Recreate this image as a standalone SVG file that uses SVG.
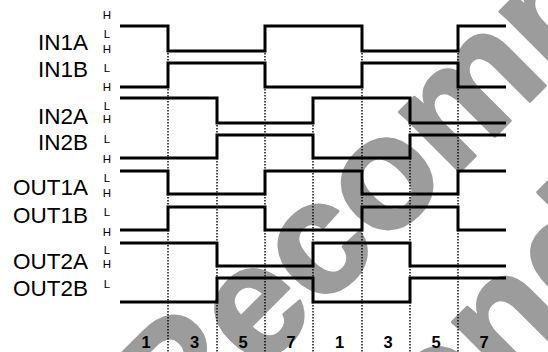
<svg xmlns="http://www.w3.org/2000/svg" width="548" height="352" viewBox="0 0 548 352">
<style>
.wm{font-family:"Liberation Sans",Arial,sans-serif;font-weight:bold;font-size:160px;fill:#9c9c9c;stroke:#9c9c9c;stroke-width:3;stroke-linejoin:round}
.sig{fill:none;stroke:#000;stroke-width:3;stroke-linejoin:miter;stroke-linecap:butt}
.dot{fill:none;stroke:#000;stroke-width:1.4;stroke-dasharray:1.4 1.6}
.name{font-family:"Liberation Sans",Arial,sans-serif;font-size:22.5px;fill:#000;text-anchor:end}
.hl{font-family:"Liberation Sans",Arial,sans-serif;font-size:11.5px;fill:#000;text-anchor:middle}
.num{font-family:"Liberation Sans",Arial,sans-serif;font-size:16.5px;font-weight:bold;fill:#000;text-anchor:middle}
</style>
<rect width="548" height="352" fill="#fff"/>
<g id="watermark">
<text class="wm" transform="translate(175,456) rotate(-45)">Recommended</text>
<text class="wm" transform="translate(-36,930) rotate(-45)">Recommended</text>
</g>
<g id="connectors">
<path class="dot" d="M168,26V352M265,26V352M362,26V352M458,26V352M217,98V352M313,98V352M410,98V352"/>
</g>
<g id="IN1A"><path class="sig" d="M120,26H168V51H265V26H362V51H458V26H506"/><text class="name" x="88" y="50">IN1A</text></g>
<g id="IN1B"><path class="sig" d="M120,87H168V63H265V87H362V63H458V87H506"/><text class="name" x="88" y="76.5">IN1B</text></g>
<g id="IN2A"><path class="sig" d="M120,98H217V123H313V98H410V123H506"/><text class="name" x="88" y="123.5">IN2A</text></g>
<g id="IN2B"><path class="sig" d="M120,158H217V135H313V158H410V135H506"/><text class="name" x="88" y="150">IN2B</text></g>
<g id="OUT1A"><path class="sig" d="M120,171H168V194H265V171H362V194H458V171H506"/><text class="name" x="88" y="195">OUT1A</text></g>
<g id="OUT1B"><path class="sig" d="M120,230H168V207H265V230H362V207H458V230H506"/><text class="name" x="88" y="222.5">OUT1B</text></g>
<g id="OUT2A"><path class="sig" d="M120,243H217V266H313V243H410V266H506"/><text class="name" x="88" y="269">OUT2A</text></g>
<g id="OUT2B"><path class="sig" d="M120,302H217V278H313V302H410V278H506"/><text class="name" x="88" y="296">OUT2B</text></g>
<g id="levels">
<text class="hl" x="107" y="19">H</text>
<text class="hl" x="107" y="38.3">L</text>
<text class="hl" x="107" y="53.3">H</text>
<text class="hl" x="107" y="71.7">L</text>
<text class="hl" x="107" y="90.7">H</text>
<text class="hl" x="107" y="110">L</text>
<text class="hl" x="107" y="123.3">H</text>
<text class="hl" x="107" y="143.3">L</text>
<text class="hl" x="107" y="163.3">H</text>
<text class="hl" x="107" y="181.7">L</text>
<text class="hl" x="107" y="196.7">H</text>
<text class="hl" x="107" y="216">L</text>
<text class="hl" x="107" y="235.7">H</text>
<text class="hl" x="107" y="254.3">L</text>
<text class="hl" x="107" y="268.3">H</text>
<text class="hl" x="107" y="288.3">L</text>
</g>
<g id="steps">
<text class="num" x="146" y="348">1</text>
<text class="num" x="194.5" y="348">3</text>
<text class="num" x="243" y="348">5</text>
<text class="num" x="291" y="348">7</text>
<text class="num" x="339.5" y="348">1</text>
<text class="num" x="388" y="348">3</text>
<text class="num" x="436" y="348">5</text>
<text class="num" x="484" y="348">7</text>
</g>
</svg>
